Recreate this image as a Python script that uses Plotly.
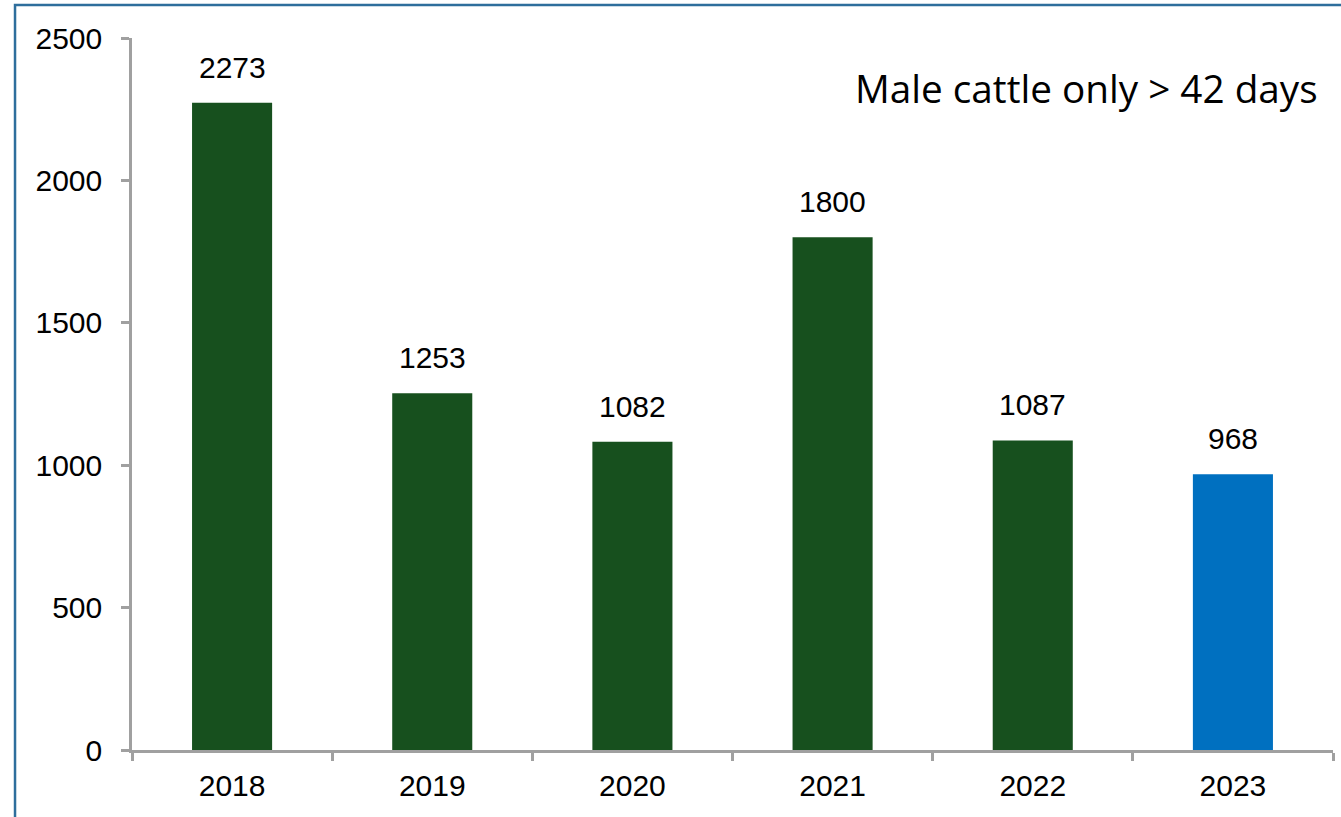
import plotly.graph_objects as go

years = ["2018", "2019", "2020", "2021", "2022", "2023"]
values = [2273, 1253, 1082, 1800, 1087, 968]
colors = ["#17501e", "#17501e", "#17501e", "#17501e", "#17501e", "#0070c0"]
y_ticks = [0, 500, 1000, 1500, 2000, 2500]
note = "Male cattle only > 42 days"

fig = go.Figure()
fig.add_trace(go.Bar(x=years, y=values, marker=dict(color=colors, line=dict(width=0)),
                     width=0.4, hoverinfo="x+y"))

for i, v in enumerate(values):
    fig.add_annotation(x=i, y=v, text=str(v), showarrow=False, yanchor="bottom",
                       yshift=17, font=dict(family="Liberation Sans, Arial", size=30, color="#000"))

fig.add_annotation(xref="paper", yref="paper", x=0.989, y=0.93, xanchor="right", yanchor="middle",
                   text=note, showarrow=False,
                   font=dict(family="Open Sans", size=38.7, color="#000"))

fig.add_shape(type="rect", xref="paper", yref="paper", x0=-0.0974, y0=-0.3, x1=1.1, y1=1.0463,
              line=dict(color="#2e6e9c", width=2.5), fillcolor="rgba(0,0,0,0)", layer="above")

fig.update_layout(
    width=1341, height=817,
    margin=dict(l=132, r=8, t=38, b=67),
    plot_bgcolor="white", paper_bgcolor="white",
    showlegend=False,
    font=dict(family="Liberation Sans, Arial", size=30, color="#000"),
    xaxis=dict(type="category", range=[-0.5, 5.5], showline=True, linecolor="#a0a0a0", linewidth=2.5,
               ticks="outside", tickson="boundaries", ticklen=8, tickwidth=2.5, tickcolor="#a0a0a0",
               showgrid=False, zeroline=False, ticklabelstandoff=7,
               tickfont=dict(family="Liberation Sans, Arial", size=30, color="#000")),
    yaxis=dict(range=[0, 2500], tickvals=y_ticks, showline=True, linecolor="#a0a0a0", linewidth=2.5,
               ticks="outside", ticklen=8, tickwidth=2.5, tickcolor="#a0a0a0",
               showgrid=False, zeroline=False, ticklabelstandoff=13,
               tickfont=dict(family="Liberation Sans, Arial", size=30, color="#000")),
)

fig.write_html("out.html", config={"displayModeBar": False},
               post_script="document.body.style.margin='0';")
